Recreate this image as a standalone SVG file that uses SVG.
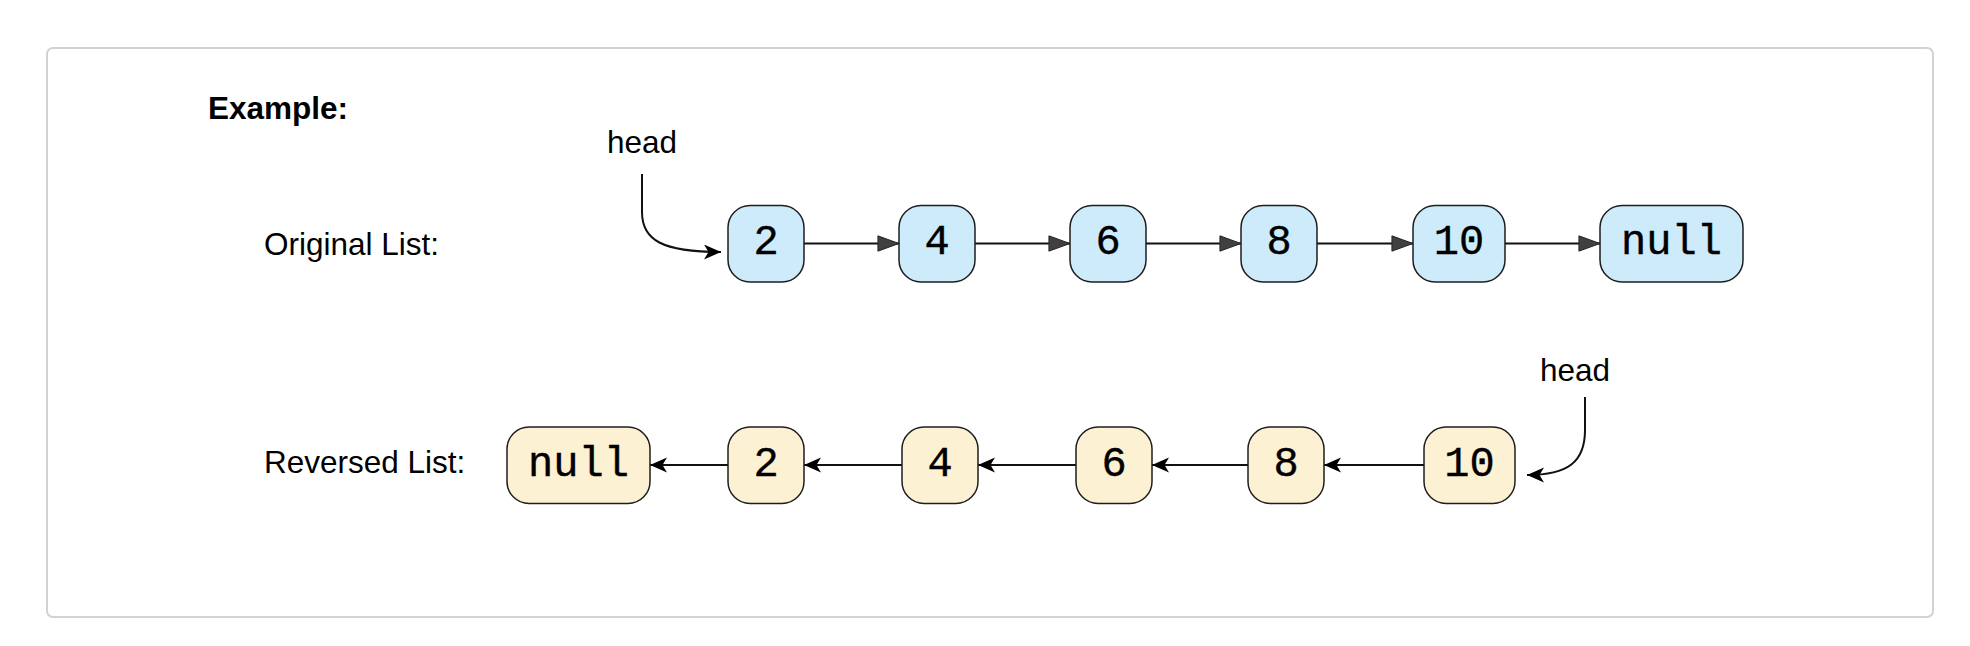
<svg xmlns="http://www.w3.org/2000/svg" width="1970" height="646" viewBox="0 0 1970 646">
<style>
.frame{fill:#ffffff;stroke:#d2d2d2;stroke-width:2}
.lbl{font-family:"Liberation Sans",Arial,sans-serif;font-size:31.5px;fill:#000}
.bold{font-weight:bold}
.orig rect{fill:#cdebfb;stroke:#1e1e1e;stroke-width:1.5}
.rev rect{fill:#fdf1d3;stroke:#1e1e1e;stroke-width:1.5}
.val{font-family:"Liberation Mono","Courier New",monospace;font-size:42px;fill:#000;stroke:#000;stroke-width:0.4;text-anchor:middle}
.conn{fill:none;stroke:#111;stroke-width:2}
</style>
<defs>
<marker id="tri" markerUnits="userSpaceOnUse" markerWidth="23" markerHeight="18" refX="22" refY="8" orient="auto" viewBox="-1 -1 24 18">
<path d="M0,0 L22,8 L0,16 Z" fill="#404040" stroke="#222" stroke-width="1"/>
</marker>
<marker id="cls" markerUnits="userSpaceOnUse" markerWidth="18" markerHeight="16" refX="17" refY="7.5" orient="auto" viewBox="0 0 18 16">
<path d="M0,0 L17,7.5 L0,15 L4.5,7.5 Z" fill="#000"/>
</marker>
</defs>
<rect class="frame" x="47" y="48" width="1886" height="569" rx="6"/>
<text id="title" class="lbl bold" x="208" y="119">Example:</text>
<text id="label-original" class="lbl" x="264" y="255">Original List:</text>
<text id="label-reversed" class="lbl" x="264" y="473">Reversed List:</text>
<text id="head-top" class="lbl" x="607" y="153">head</text>
<text id="head-bottom" class="lbl" x="1540" y="381">head</text>

<g id="connectors">
<path class="conn" d="M642,174 L642,212 C642,240 662,252 721,252" marker-end="url(#cls)"/>
<path class="conn" d="M804,243.5 L899,243.5" marker-end="url(#tri)"/>
<path class="conn" d="M975,243.5 L1070,243.5" marker-end="url(#tri)"/>
<path class="conn" d="M1146,243.5 L1241,243.5" marker-end="url(#tri)"/>
<path class="conn" d="M1317,243.5 L1413,243.5" marker-end="url(#tri)"/>
<path class="conn" d="M1505,243.5 L1600,243.5" marker-end="url(#tri)"/>
<path class="conn" d="M1585,397 L1585,430 C1585,462 1568,475 1527,475" marker-end="url(#cls)"/>
<path class="conn" d="M1424,465 L1324,465" marker-end="url(#cls)"/>
<path class="conn" d="M1248,465 L1152,465" marker-end="url(#cls)"/>
<path class="conn" d="M1076,465 L978,465" marker-end="url(#cls)"/>
<path class="conn" d="M902,465 L804,465" marker-end="url(#cls)"/>
<path class="conn" d="M728,465 L650,465" marker-end="url(#cls)"/>
</g>

<g id="o2" class="orig"><rect x="728" y="205.5" width="76" height="76.5" rx="22"/><text class="val" x="766" y="254">2</text></g>
<g id="o4" class="orig"><rect x="899" y="205.5" width="76" height="76.5" rx="22"/><text class="val" x="937" y="254">4</text></g>
<g id="o6" class="orig"><rect x="1070" y="205.5" width="76" height="76.5" rx="22"/><text class="val" x="1108" y="254">6</text></g>
<g id="o8" class="orig"><rect x="1241" y="205.5" width="76" height="76.5" rx="22"/><text class="val" x="1279" y="254">8</text></g>
<g id="o10" class="orig"><rect x="1413" y="205.5" width="92" height="76.5" rx="22"/><text class="val" x="1459" y="254">10</text></g>
<g id="onull" class="orig"><rect x="1600" y="205.5" width="143" height="76.5" rx="22"/><text class="val" x="1671.5" y="254">null</text></g>

<g id="rnull" class="rev"><rect x="507" y="427" width="143" height="76.5" rx="22"/><text class="val" x="578.5" y="476">null</text></g>
<g id="r2" class="rev"><rect x="728" y="427" width="76" height="76.5" rx="22"/><text class="val" x="766" y="476">2</text></g>
<g id="r4" class="rev"><rect x="902" y="427" width="76" height="76.5" rx="22"/><text class="val" x="940" y="476">4</text></g>
<g id="r6" class="rev"><rect x="1076" y="427" width="76" height="76.5" rx="22"/><text class="val" x="1114" y="476">6</text></g>
<g id="r8" class="rev"><rect x="1248" y="427" width="76" height="76.5" rx="22"/><text class="val" x="1286" y="476">8</text></g>
<g id="r10" class="rev"><rect x="1424" y="427" width="91" height="76.5" rx="22"/><text class="val" x="1469.5" y="476">10</text></g>
</svg>
